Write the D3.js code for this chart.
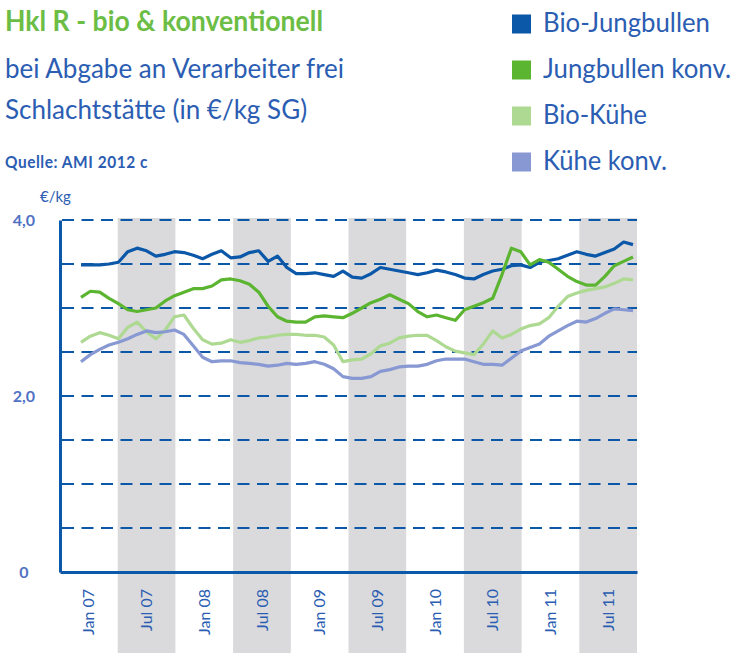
<!DOCTYPE html>
<html>
<head>
<meta charset="utf-8">
<script src="https://cdnjs.cloudflare.com/ajax/libs/d3/7.8.5/d3.min.js"></script>
<style>
  body { margin: 0; background: #fff; }
  text { font-family: Lato, "Open Sans", sans-serif; }
</style>
</head>
<body>
<div id="chart"></div>
<script>
var svgWidth = 736;
var svgHeight = 653;

// half-year categories on the x axis
var halfYears = ['Jan 07', 'Jul 07', 'Jan 08', 'Jul 08', 'Jan 09', 'Jul 09', 'Jan 10', 'Jul 10', 'Jan 11', 'Jul 11'];

// y axis labels and grid
var yTicks = [0, 2, 4];
var gridValues = [0.5, 1, 1.5, 2, 2.5, 3, 3.5, 4];

// monthly prices in €/kg SG, Jan 07 - Dec 11
var bioJungbullen = [3.49, 3.49, 3.49, 3.50, 3.52, 3.64, 3.68, 3.65, 3.59, 3.61, 3.64, 3.63,
    3.60, 3.56, 3.61, 3.65, 3.57, 3.58, 3.63, 3.65, 3.53, 3.59, 3.46, 3.39,
    3.39, 3.40, 3.38, 3.36, 3.42, 3.35, 3.34, 3.39, 3.46, 3.44, 3.42, 3.40,
    3.38, 3.40, 3.43, 3.41, 3.38, 3.34, 3.33, 3.38, 3.42, 3.44, 3.48, 3.49,
    3.46, 3.52, 3.54, 3.56, 3.60, 3.64, 3.61, 3.59, 3.63, 3.67, 3.75, 3.72];

var jungbullenKonv = [3.12, 3.19, 3.18, 3.11, 3.05, 2.98, 2.96, 2.98, 3.00, 3.08, 3.14, 3.18,
    3.22, 3.22, 3.25, 3.32, 3.33, 3.31, 3.27, 3.18, 3.02, 2.90, 2.85, 2.84,
    2.84, 2.90, 2.91, 2.90, 2.89, 2.94, 3.00, 3.06, 3.10, 3.15, 3.10, 3.05,
    2.96, 2.90, 2.92, 2.89, 2.86, 2.98, 3.02, 3.06, 3.11, 3.38, 3.68, 3.64,
    3.49, 3.55, 3.52, 3.44, 3.36, 3.30, 3.26, 3.26, 3.36, 3.48, 3.53, 3.58];

var bioKuehe = [2.61, 2.68, 2.72, 2.69, 2.65, 2.78, 2.84, 2.73, 2.65, 2.75, 2.90, 2.92,
    2.77, 2.64, 2.59, 2.60, 2.64, 2.61, 2.63, 2.66, 2.67, 2.69, 2.70, 2.70,
    2.69, 2.69, 2.67, 2.58, 2.39, 2.41, 2.42, 2.48, 2.57, 2.60, 2.66, 2.68,
    2.69, 2.69, 2.63, 2.56, 2.51, 2.49, 2.47, 2.59, 2.74, 2.66, 2.70, 2.76,
    2.80, 2.82, 2.89, 3.02, 3.13, 3.17, 3.20, 3.22, 3.24, 3.28, 3.33, 3.32];

var kueheKonv = [2.39, 2.47, 2.53, 2.58, 2.61, 2.65, 2.70, 2.74, 2.72, 2.73, 2.75, 2.70,
    2.57, 2.44, 2.39, 2.40, 2.40, 2.38, 2.37, 2.36, 2.34, 2.35, 2.37, 2.36,
    2.37, 2.39, 2.36, 2.31, 2.22, 2.20, 2.20, 2.22, 2.28, 2.30, 2.33, 2.34,
    2.34, 2.36, 2.40, 2.42, 2.42, 2.42, 2.39, 2.36, 2.36, 2.35, 2.43, 2.51,
    2.55, 2.59, 2.68, 2.74, 2.80, 2.85, 2.84, 2.88, 2.94, 2.99, 2.98, 2.97];

var seriesNames = ['Bio-Jungbullen', 'Jungbullen konv.', 'Bio-Kühe', 'Kühe konv.'];
var seriesColors = ['#0b57a8', '#5cb531', '#aed992', '#8798d3'];
var seriesValues = [bioJungbullen, jungbullenKonv, bioKuehe, kueheKonv];

var blue = '#0b57a8';
var textBlue = '#2b5db2';
var tickBlue = '#5071c4';

var margin = { left: 60, top: 220, right: 99, bottom: 81 };
var width = svgWidth - margin.left - margin.right;
var height = svgHeight - margin.top - margin.bottom;

var svg = d3.select('#chart').append('svg')
    .attr('width', svgWidth)
    .attr('height', svgHeight);

// squeeze text to the width it has in the original (narrow font)
function fit(sel, w) {
    sel.each(function() {
        if (this.getComputedTextLength() > w) {
            d3.select(this).attr('textLength', w).attr('lengthAdjust', 'spacingAndGlyphs');
        }
    });
}

// titles
svg.append('text').attr('x', 5).attr('y', 31)
    .attr('fill', '#6cbd45').attr('font-weight', 'bold').attr('font-size', 28)
    .text('Hkl R - bio & konventionell').call(fit, 318);
svg.append('text').attr('x', 5).attr('y', 78)
    .attr('fill', textBlue).attr('font-size', 26)
    .text('bei Abgabe an Verarbeiter frei').call(fit, 340);
svg.append('text').attr('x', 5).attr('y', 119)
    .attr('fill', textBlue).attr('font-size', 26)
    .text('Schlachtstätte (in €/kg SG)').call(fit, 305);
svg.append('text').attr('x', 5).attr('y', 168)
    .attr('fill', textBlue).attr('font-weight', 'bold').attr('font-size', 17)
    .attr('letter-spacing', 0.6)
    .text('Quelle: AMI 2012 c').call(fit, 143);

// legend
var legend = svg.selectAll('.legend')
    .data(seriesNames)
    .enter()
    .append('g')
    .classed('legend', true)
    .attr('transform', (d, i) => `translate(512,${24 + i * 46})`);

legend.append('rect')
    .attr('x', 0).attr('y', -9.5)
    .attr('width', 19).attr('height', 19)
    .attr('fill', (d, i) => seriesColors[i]);

var legendWidths = [167, 188, 104, 124];
legend.append('text')
    .attr('x', 31).attr('y', 8)
    .attr('fill', textBlue).attr('font-size', 26)
    .text(d => d)
    .each(function(d, i) { d3.select(this).call(fit, legendWidths[i]); });

var chartArea = svg.append('g')
    .attr('transform', `translate(${margin.left},${margin.top})`);

// scales
var xBand = d3.scaleBand()
    .domain(halfYears)
    .range([0, width]);

var xMonth = d3.scaleLinear()
    .domain([0, bioJungbullen.length - 1])
    .range([21, width - 4]);

var yScale = d3.scaleLinear()
    .domain([0, 4])
    .range([height, 0]);

// grey bands for second half of each year
chartArea.selectAll('.band')
    .data(halfYears.filter((d, i) => i % 2 === 1))
    .enter()
    .append('rect')
    .classed('band', true)
    .attr('x', d => xBand(d))
    .attr('y', -2)
    .attr('width', xBand.bandwidth())
    .attr('height', svgHeight - margin.top + 2)
    .attr('fill', '#dadadc');

// dashed grid
chartArea.selectAll('.grid')
    .data(gridValues)
    .enter()
    .append('line')
    .classed('grid', true)
    .attr('x1', 2).attr('x2', width)
    .attr('y1', d => yScale(d)).attr('y2', d => yScale(d))
    .attr('stroke', blue)
    .attr('stroke-width', 2)
    .attr('stroke-dasharray', '12,7.5');

// lines
var line = d3.line()
    .x((d, i) => xMonth(i))
    .y(d => yScale(d));

chartArea.selectAll('.series')
    .data(seriesValues)
    .enter()
    .append('path')
    .classed('series', true)
    .attr('d', d => line(d))
    .attr('fill', 'none')
    .attr('stroke', (d, i) => seriesColors[i])
    .attr('stroke-width', 3.2)
    .attr('stroke-linejoin', 'round');

// axes
var xAxis = chartArea.append('g')
    .attr('transform', `translate(0,${height})`)
    .call(d3.axisBottom(xBand).tickSize(0).tickSizeOuter(0));

xAxis.select('.domain').attr('stroke', blue).attr('stroke-width', 3);
xAxis.selectAll('text')
    .attr('transform', 'rotate(-90)')
    .attr('x', -17).attr('y', 0).attr('dy', '0.35em')
    .attr('text-anchor', 'end')
    .attr('fill', textBlue)
    .attr('font-size', 16)
    .attr('font-family', 'Lato, sans-serif');

var yAxis = chartArea.append('g')
    .call(d3.axisLeft(yScale)
        .tickValues(yTicks)
        .tickSize(0).tickSizeOuter(0)
        .tickFormat(d => d === 0 ? '0' : d3.format('.1f')(d).replace('.', ',')));

yAxis.select('.domain').attr('stroke', blue).attr('stroke-width', 3);
yAxis.selectAll('text')
    .attr('x', -36)
    .attr('text-anchor', 'middle')
    .attr('fill', tickBlue)
    .attr('font-weight', 'bold')
    .attr('font-size', 16)
    .attr('font-family', 'Lato, sans-serif');

chartArea.append('text')
    .attr('x', -20).attr('y', -18)
    .attr('fill', textBlue)
    .attr('font-size', 15)
    .text('€/kg');
</script>
</body>
</html>
